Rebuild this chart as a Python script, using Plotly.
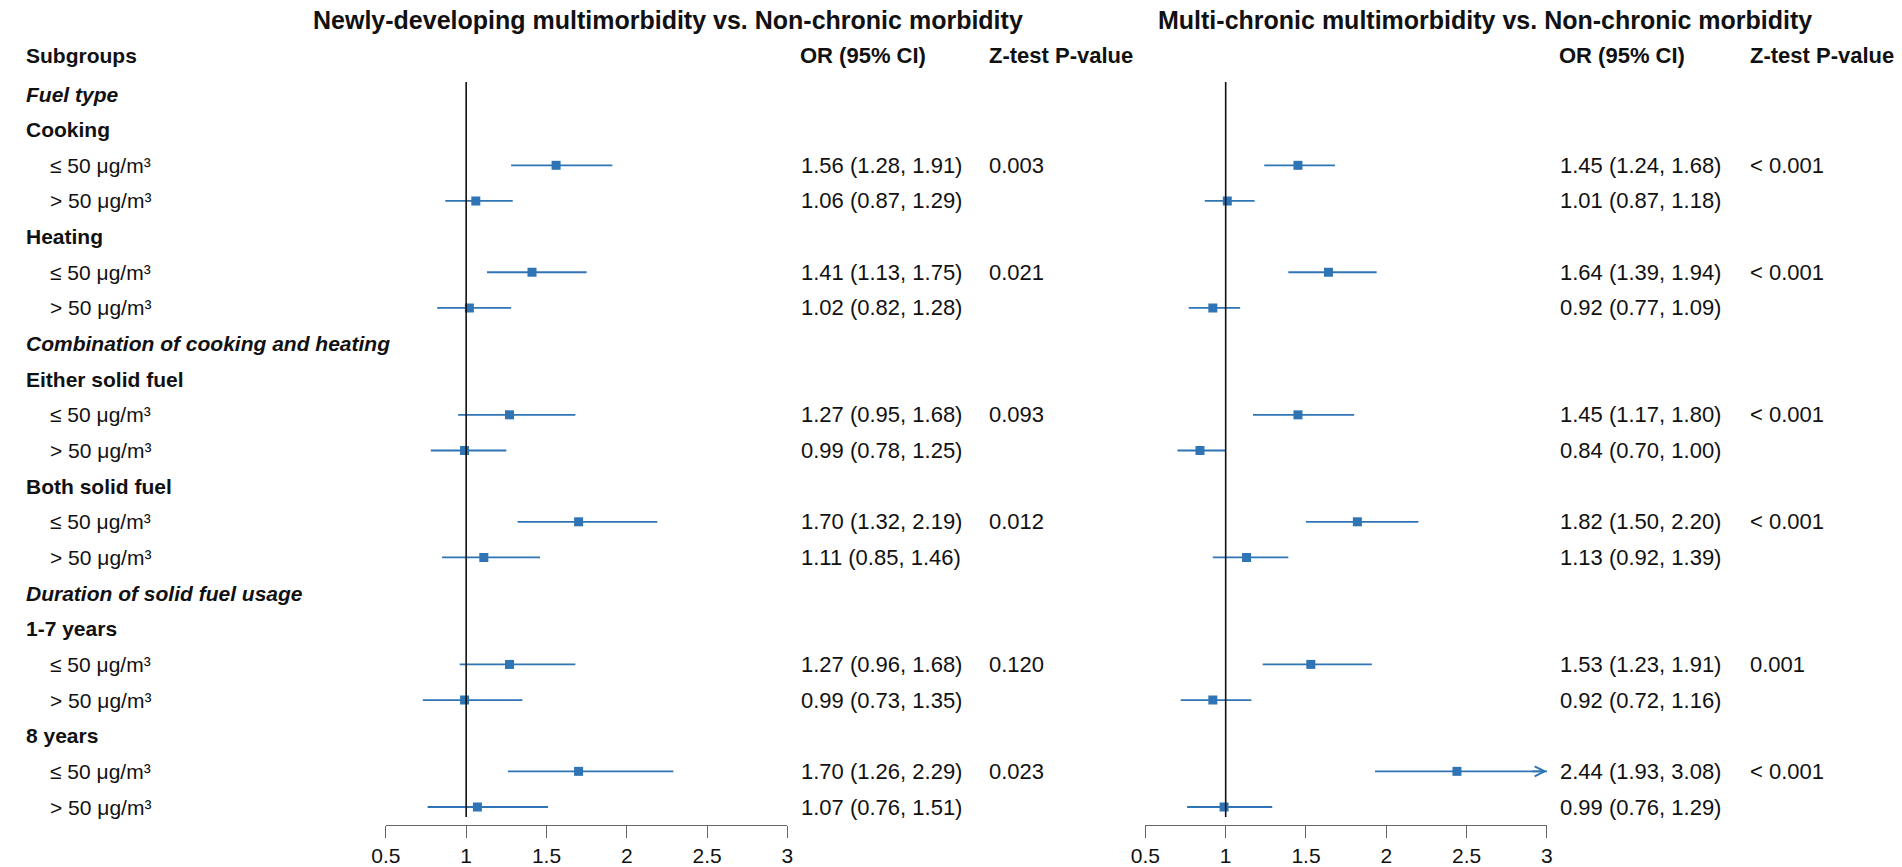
import plotly.graph_objects as go

# ---- data ----
sections = ["Fuel type", "Combination of cooking and heating", "Duration of solid fuel usage"]
groups = [["Cooking", "Heating"], ["Either solid fuel", "Both solid fuel"], ["1-7 years", "8 years"]]
levels = ["≤ 50 μg/m³", "> 50 μg/m³"]

# Newly-developing multimorbidity vs. Non-chronic morbidity
new_or = [1.56, 1.06, 1.41, 1.02, 1.27, 0.99, 1.70, 1.11, 1.27, 0.99, 1.70, 1.07]
new_lo = [1.28, 0.87, 1.13, 0.82, 0.95, 0.78, 1.32, 0.85, 0.96, 0.73, 1.26, 0.76]
new_hi = [1.91, 1.29, 1.75, 1.28, 1.68, 1.25, 2.19, 1.46, 1.68, 1.35, 2.29, 1.51]
new_p = ["0.003", "0.021", "0.093", "0.012", "0.120", "0.023"]

# Multi-chronic multimorbidity vs. Non-chronic morbidity
multi_or = [1.45, 1.01, 1.64, 0.92, 1.45, 0.84, 1.82, 1.13, 1.53, 0.92, 2.44, 0.99]
multi_lo = [1.24, 0.87, 1.39, 0.77, 1.17, 0.70, 1.50, 0.92, 1.23, 0.72, 1.93, 0.76]
multi_hi = [1.68, 1.18, 1.94, 1.09, 1.80, 1.00, 2.20, 1.39, 1.91, 1.16, 3.08, 1.29]
multi_p = ["< 0.001", "< 0.001", "< 0.001", "< 0.001", "0.001", "< 0.001"]

titles = ["Newly-developing multimorbidity vs. Non-chronic morbidity",
          "Multi-chronic multimorbidity vs. Non-chronic morbidity"]
x_ticks = [0.5, 1, 1.5, 2, 2.5, 3]

# ---- layout constants (pixels) ----
W, H = 1902, 867
FONT = "Liberation Sans, Arial, Helvetica, sans-serif"
BLUE = "#2f74b5"
ROW0, ROWH = 94, 35.65      # pixel y of first row, row spacing
AXIS_Y = 825                # pixel y of the x axis line


def px(x):
    return x / W


def py(y):
    return 1 - y / H


def row_of(ypix):
    return (ypix - ROW0) / ROWH


# build the row list: (label, kind, estimate index, p index)
rows = []
est_i = 0
p_i = 0
for s, sec in enumerate(sections):
    rows.append((sec, "section", None, None))
    for g in groups[s]:
        rows.append((g, "group", None, None))
        for k, lev in enumerate(levels):
            rows.append((lev, "level", est_i, p_i if k == 0 else None))
            est_i += 1
        p_i += 1

fig = go.Figure()
annotations = []

panels = [
    dict(ors=new_or, lo=new_lo, hi=new_hi, p=new_p, xa="x", ya="y",
         dom=(375, 781), or_x=793, p_x=983, title_c=660),
    dict(ors=multi_or, lo=multi_lo, hi=multi_hi, p=multi_p, xa="x2", ya="y2",
         dom=(1143, 1549), or_x=1560, p_x=1752, title_c=1486),
]

for pnl in panels:
    ys, xs, plus, minus = [], [], [], []
    for r, (lab, kind, ei, pi) in enumerate(rows):
        if ei is None:
            continue
        o, lo, hi = pnl["ors"][ei], pnl["lo"][ei], pnl["hi"][ei]
        ys.append(r)
        xs.append(o)
        plus.append(hi - o)
        minus.append(o - lo)
        annotations.append(dict(
            text=f"{o:.2f} ({lo:.2f}, {hi:.2f})", xref="paper", x=px(pnl["or_x"]),
            yref=pnl["ya"], y=r, xanchor="left", yanchor="middle", showarrow=False,
            font=dict(size=22, color="#111")))
        if pi is not None:
            annotations.append(dict(
                text=pnl["p"][pi], xref="paper", x=px(pnl["p_x"]),
                yref=pnl["ya"], y=r, xanchor="left", yanchor="middle", showarrow=False,
                font=dict(size=22, color="#111")))
        # CI running past the axis gets an arrow head at the edge
        if hi > x_ticks[-1]:
            annotations.append(dict(
                text="", x=x_ticks[-1], y=r, xref=pnl["xa"], yref=pnl["ya"],
                ax=x_ticks[-1] - 0.1, ay=r, axref=pnl["xa"], ayref=pnl["ya"],
                showarrow=True, arrowhead=5, arrowsize=1.1, arrowwidth=1.8,
                arrowcolor=BLUE))

    fig.add_trace(go.Scatter(
        x=xs, y=ys, mode="markers", xaxis=pnl["xa"], yaxis=pnl["ya"],
        marker=dict(symbol="square", size=9, color=BLUE),
        error_x=dict(type="data", symmetric=False, array=plus, arrayminus=minus,
                     color=BLUE, thickness=1.8, width=0),
        showlegend=False, hoverinfo="x"))

    # headers
    annotations.append(dict(text="<b>OR (95% CI)</b>", xref="paper", x=px(pnl["or_x"] - 1),
                            yref="paper", y=py(56), xanchor="left", yanchor="middle",
                            showarrow=False, font=dict(size=22, color="#111")))
    annotations.append(dict(text="<b>Z-test P-value</b>", xref="paper", x=px(pnl["p_x"]),
                            yref="paper", y=py(56), xanchor="left", yanchor="middle",
                            showarrow=False, font=dict(size=22, color="#111")))

    # reference line at OR = 1
    fig.add_shape(type="line", xref=pnl["xa"], yref=pnl["ya"], x0=1, x1=1,
                  y0=row_of(82), y1=row_of(817), line=dict(color="#111", width=1.6))

for t, pnl in zip(titles, panels):
    annotations.append(dict(text=f"<b>{t}</b>", xref="paper", x=px(pnl["title_c"]),
                            yref="paper", y=py(20), xanchor="center", yanchor="middle",
                            showarrow=False, font=dict(size=25, color="#111")))

# subgroup labels
annotations.append(dict(text="<b>Subgroups</b>", xref="paper", x=px(9), yref="paper", y=py(56),
                        xanchor="left", yanchor="middle", showarrow=False,
                        font=dict(size=21, color="#111")))
for r, (lab, kind, ei, pi) in enumerate(rows):
    if kind == "section":
        txt, x0 = f"<b><i>{lab}</i></b>", 9
    elif kind == "group":
        txt, x0 = f"<b>{lab}</b>", 9
    else:
        txt, x0 = lab, 33
    annotations.append(dict(text=txt, xref="paper", x=px(x0), yref="y", y=r,
                            xanchor="left", yanchor="middle", showarrow=False,
                            font=dict(size=21, color="#111")))

axis_common = dict(range=[x_ticks[0], x_ticks[-1]], tickvals=x_ticks,
                   ticktext=[f"{v:g}" for v in x_ticks],
                   showgrid=False, zeroline=False, showline=True, linecolor="#666",
                   linewidth=1.3, ticks="outside", ticklen=12, tickwidth=1.3,
                   tickcolor="#666", tickfont=dict(size=21, color="#111"), fixedrange=True)
y_common = dict(range=[row_of(AXIS_Y), row_of(0)], domain=[1 - AXIS_Y / H, 1],
                visible=False, showgrid=False, zeroline=False, fixedrange=True)

fig.update_layout(
    width=W, height=H,
    margin=dict(l=0, r=0, t=0, b=0),
    paper_bgcolor="white", plot_bgcolor="white",
    font=dict(family=FONT, color="#111"),
    xaxis=dict(domain=[px(375), px(781)], anchor="y", **axis_common),
    xaxis2=dict(domain=[px(1143), px(1549)], anchor="y2", **axis_common),
    yaxis=dict(anchor="x", **y_common),
    yaxis2=dict(anchor="x2", **y_common),
    annotations=annotations,
    showlegend=False,
)

# drop the default page margin so the figure fills the window exactly
fig.write_html("out.html", config={"displayModeBar": False},
               post_script="document.body.style.margin='0';document.body.style.overflow='hidden';")
